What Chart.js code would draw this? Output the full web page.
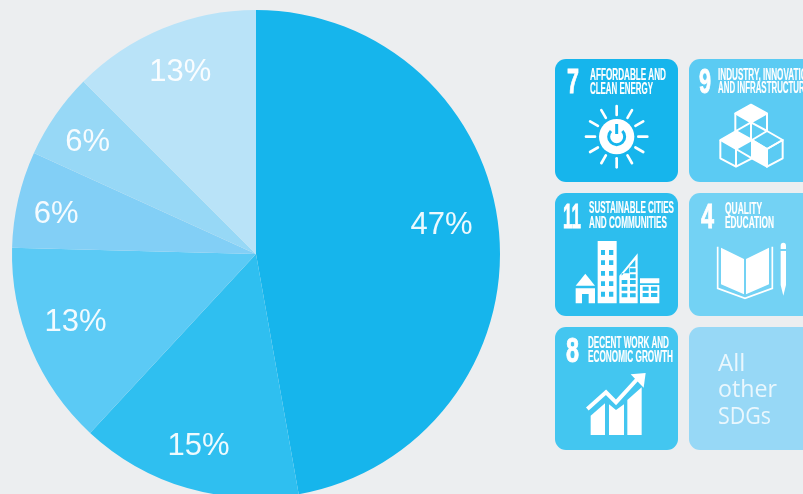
<!DOCTYPE html>
<html>
<head>
<meta charset="utf-8">
<title>Share of SDGs</title>
<script src="https://cdn.jsdelivr.net/npm/chart.js@4"></script>
<style>
  html, body { margin: 0; padding: 0; width: 803px; height: 494px; overflow: hidden; background: #ECEEF0; }
  #pie { position: absolute; left: 0; top: 0; }
  #tiles { position: absolute; left: 0; top: 0; }
  #tiles .num { font-family: "Liberation Sans Narrow", "Liberation Sans"; font-weight: 700; font-size: 35px; fill: #fff; stroke: #fff; stroke-width: 0.9px; }
  #tiles .cap { font-family: "Liberation Sans Narrow", "Liberation Sans"; font-weight: 700; font-size: 16px; fill: #fff; stroke: #fff; stroke-width: 0.2px; }
  #tiles .other { font-family: "Open Sans"; font-size: 24px; fill: #EAF7FD; }
</style>
</head>
<body>
<canvas id="pie" width="512" height="508"></canvas>

<svg id="tiles" width="803" height="494" xmlns="http://www.w3.org/2000/svg">
  <rect x="555" y="59" width="123" height="123" rx="11" fill="#16B5EC"/>
  <rect x="689" y="59" width="130" height="123" rx="11" fill="#5BCBF3"/>
  <rect x="555" y="193" width="123" height="123" rx="11" fill="#2DBEEE"/>
  <rect x="689" y="193" width="130" height="123" rx="11" fill="#73D2F4"/>
  <rect x="555" y="327" width="123" height="123" rx="11" fill="#43C6F0"/>
  <rect x="689" y="327" width="130" height="123" rx="11" fill="#97D8F6"/>

  <text class="num" x="567" y="93" textLength="12" lengthAdjust="spacingAndGlyphs">7</text>
  <text class="cap" x="590" y="80" textLength="76" lengthAdjust="spacingAndGlyphs">AFFORDABLE AND</text>
  <text class="cap" x="590" y="94" textLength="63" lengthAdjust="spacingAndGlyphs">CLEAN ENERGY</text>

  <text class="num" x="699" y="93" textLength="12" lengthAdjust="spacingAndGlyphs">9</text>
  <text class="cap" x="718" y="80" textLength="95" lengthAdjust="spacingAndGlyphs">INDUSTRY, INNOVATION</text>
  <text class="cap" x="718" y="93" textLength="92" lengthAdjust="spacingAndGlyphs">AND INFRASTRUCTURE</text>

  <text class="num" x="563" y="228" textLength="18" lengthAdjust="spacingAndGlyphs">11</text>
  <text class="cap" x="589" y="213" textLength="85" lengthAdjust="spacingAndGlyphs">SUSTAINABLE CITIES</text>
  <text class="cap" x="589" y="228" textLength="78" lengthAdjust="spacingAndGlyphs">AND COMMUNITIES</text>

  <text class="num" x="701" y="228" textLength="13" lengthAdjust="spacingAndGlyphs">4</text>
  <text class="cap" x="725" y="214" textLength="37" lengthAdjust="spacingAndGlyphs">QUALITY</text>
  <text class="cap" x="725" y="228" textLength="49" lengthAdjust="spacingAndGlyphs">EDUCATION</text>

  <text class="num" x="566" y="362" textLength="13" lengthAdjust="spacingAndGlyphs">8</text>
  <text class="cap" x="588" y="348" textLength="81" lengthAdjust="spacingAndGlyphs">DECENT WORK AND</text>
  <text class="cap" x="588" y="362" textLength="85" lengthAdjust="spacingAndGlyphs">ECONOMIC GROWTH</text>

  <text class="other" x="718" y="371">All</text>
  <text class="other" x="718" y="397" textLength="59" lengthAdjust="spacingAndGlyphs">other</text>
  <text class="other" x="718" y="424" textLength="53" lengthAdjust="spacingAndGlyphs">SDGs</text>

  <!-- sun -->
  <g transform="translate(580,100) scale(0.3333)">
    <g stroke="#fff" stroke-width="8" stroke-linecap="round" id="rays"></g>
    <circle cx="110" cy="110" r="53" fill="#fff"/>
    <path d="M93 93 A24 24 0 1 0 127 93" fill="none" stroke="#16B5EC" stroke-width="9"/>
    <path d="M110 72 V102" stroke="#16B5EC" stroke-width="9" fill="none"/>
  </g>

  <!-- cubes -->
  <g transform="translate(712,100) scale(0.3333)" fill="none" stroke="#fff" stroke-width="6" stroke-linejoin="round">
    <path d="M117 14 L165 40 L117 67 L70 40 Z" fill="#fff"/>
    <path d="M70 40 V95 M165 40 V95 M117 67 V120 M72 93 L117 67 L165 93"/>
    <path d="M165 93 L212 120 L165 147 L120 120 Z"/>
    <path d="M165 147 L212 120 V175 L165 200 Z"/>
    <path d="M120 120 L165 147 V200 L120 175 Z" fill="#fff"/>
    <path d="M25 120 V175 L72 200 L120 175 V120 M72 147 V200 M72 147 L120 175"/>
    <path d="M72 93 L120 120 L72 147 L25 120 Z" fill="#fff"/>
  </g>

  <!-- city -->
  <g transform="translate(570,235) scale(0.3333)">
    <path fill="#fff" fill-rule="evenodd" d="M83 18 H140 V205 H83 Z
      M93 45 V60 H105 V45 Z M117 45 V60 H130 V45 Z
      M93 76 V90 H105 V76 Z M117 76 V90 H130 V76 Z
      M93 108 V122 H105 V108 Z M117 108 V122 H130 V108 Z
      M93 139 V153 H105 V139 Z M117 139 V153 H130 V139 Z
      M93 170 V185 H105 V170 Z M117 170 V185 H130 V170 Z"/>
    <path fill="#fff" fill-rule="evenodd" d="M148 205 V122 L203 55 V205 Z
      M155 122 L196 74 V95 H178 V115 H155 Z
      M180 100 V112 H197 V100 Z M180 118 V130 H197 V118 Z
      M155 135 V147 H172 V135 Z M180 135 V147 H197 V135 Z
      M155 155 V167 H172 V155 Z M180 155 V167 H197 V155 Z
      M155 175 V187 H172 V175 Z M180 175 V187 H197 V175 Z"/>
    <path fill="#fff" fill-rule="evenodd" d="M210 130 H268 V205 H210 Z
      M210 145 V150 H268 V145 Z
      M218 155 V167 H236 V155 Z M243 155 V167 H262 V155 Z
      M218 174 V186 H236 V174 Z M243 174 V186 H262 V174 Z"/>
    <path fill="#fff" d="M17 152 L46 116 L75 152 Z"/>
    <path fill="#fff" fill-rule="evenodd" d="M17 160 H75 V205 H17 Z M36 177 V205 H56 V177 Z"/>
  </g>

  <!-- book -->
  <g transform="translate(710,235) scale(0.3333)">
    <path fill="#fff" d="M33 38 L102 72 V178 L33 148 Z M108 72 L177 38 V148 L108 178 Z"/>
    <path fill="none" stroke="#fff" stroke-width="5" d="M23 35 V160 L105 190 L187 160 V35"/>
    <path fill="#fff" d="M212 42 V32 A8 9 0 0 1 228 32 V42 Z M212 48 H228 V150 L220 182 L212 150 Z"/>
  </g>

  <!-- growth -->
  <g transform="translate(580,365) scale(0.3333)" fill="#fff">
    <path d="M32 152 L75 115 V210 H32 Z"/>
    <path d="M87 118 L108 135 L132 118 V210 H87 Z"/>
    <path d="M142 105 L185 67 V210 H142 Z"/>
    <path d="M22 132 L78 82 L108 112 L172 42" fill="none" stroke="#fff" stroke-width="12"/>
    <path d="M152 28 L197 24 L191 68 Z"/>
  </g>
</svg>

<script>
const categories = [
    "Affordable and clean energy",
    "Sustainable cities and communities",
    "Decent work and economic growth",
    "Industry, innovation and infrastructure",
    "Quality education",
    "All other SDGs"
];
const shares = [47.2, 14.7, 13.5, 6.4, 5.7, 12.5];
const shareLabels = ["47%", "15%", "13%", "6%", "6%", "13%"];
const sliceColors = ["#16B5EC", "#2FBFF0", "#5BCAF5", "#82CFF6", "#97D8F6", "#B9E3F8"];
// nudges from the middle of each slice to where the label sits
const labelShift = [[64, -18], [-23, 75], [-68, 21], [-81, -12], [-68, -42], [-29, -69]];

// sun rays for the energy tile
const rays = document.getElementById('rays');
for (let i = 0; i < 12; i++) {
    const a = i * Math.PI / 6;
    const line = document.createElementNS('http://www.w3.org/2000/svg', 'line');
    line.setAttribute('x1', 110 + 65 * Math.sin(a));
    line.setAttribute('y1', 110 - 65 * Math.cos(a));
    line.setAttribute('x2', 110 + 92 * Math.sin(a));
    line.setAttribute('y2', 110 - 92 * Math.cos(a));
    rays.appendChild(line);
}

const sliceLabels = {
    id: 'sliceLabels',
    afterDatasetsDraw(chart) {
        const ctx = chart.ctx;
        ctx.save();
        ctx.font = '31px "Liberation Sans"';
        ctx.fillStyle = 'rgba(255,255,255,0.92)';
        ctx.textAlign = 'center';
        ctx.textBaseline = 'middle';
        chart.getDatasetMeta(0).data.forEach((arc, i) => {
            const pos = arc.tooltipPosition();
            ctx.fillText(shareLabels[i], pos.x + labelShift[i][0], pos.y + labelShift[i][1]);
        });
        ctx.restore();
    }
};

new Chart(document.getElementById('pie'), {
    type: 'pie',
    data: {
        labels: categories,
        datasets: [{
            data: shares,
            backgroundColor: sliceColors,
            borderWidth: 0,
            radius: 244
        }]
    },
    options: {
        responsive: false,
        animation: false,
        layout: { padding: 0 },
        plugins: {
            legend: { display: false },
            tooltip: { enabled: false }
        }
    },
    plugins: [sliceLabels]
});
</script>
</body>
</html>
